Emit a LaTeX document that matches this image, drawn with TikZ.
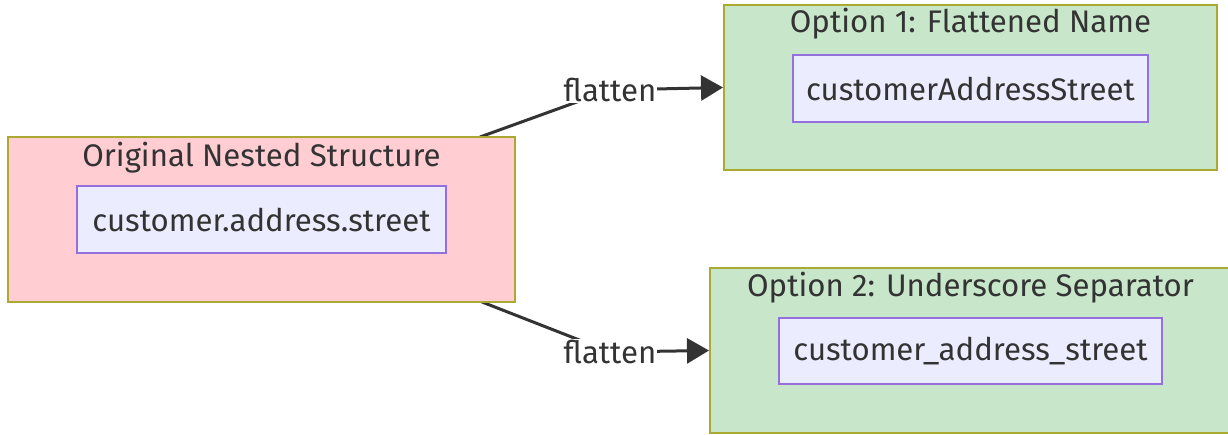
\documentclass[tikz,border=0pt]{standalone}
\usepackage{fontspec}
\setmainfont{Fira Sans}
\usetikzlibrary{arrows.meta,backgrounds}
\definecolor{txt}{HTML}{333333}
\definecolor{clusterline}{HTML}{AAAA33}
\definecolor{pinkfill}{HTML}{FFCDD2}
\definecolor{greenfill}{HTML}{C8E6C9}
\definecolor{itemfill}{HTML}{ECECFF}
\definecolor{itemline}{HTML}{9370DB}
\tikzset{
  cluster/.style={draw=clusterline, line width=2pt, inner sep=0pt},
  item/.style={draw=itemline, fill=itemfill, line width=2pt, inner sep=0pt,
    text=txt, font=\fontsize{31.2}{36}\selectfont},
  ctitle/.style={text=txt, font=\fontsize{31.2}{36}\selectfont, inner sep=0pt},
  elabel/.style={fill=white, text=txt, font=\fontsize{31.2}{36}\selectfont, inner sep=1pt},
  edge/.style={draw=txt, line width=3pt, -{Triangle[length=22pt,width=25pt]}},
}
\begin{document}
\begin{tikzpicture}[x=1pt,y=-1pt]
\useasboundingbox (0,0) rectangle (1228,434);
\clip (0,0) rectangle (1228,434);
% groups
\node[cluster, fill=pinkfill, minimum width=507pt, minimum height=165pt] (orig) at (261.5,219.5) {};
\node[cluster, fill=greenfill, minimum width=493pt, minimum height=165pt] (opt1) at (970.5,87.5) {};
\node[cluster, fill=greenfill, minimum width=524pt, minimum height=165pt] (opt2) at (972,350.5) {};
% group titles
\node[ctitle] (origT) at (261.5,158) {Original Nested Structure};
\node[ctitle] (opt1T) at (970.5,24) {Option 1: Flattened Name};
\node[ctitle] (opt2T) at (970.5,288) {Option 2: Underscore Separator};
% field names
\node[item, minimum width=369pt, minimum height=67pt] (f0) at (261.5,219.5) {customer.address.street};
\node[item, minimum width=355pt, minimum height=67pt] (f1) at (970.5,88.5) {customerAddressStreet};
\node[item, minimum width=383pt, minimum height=66pt] (f2) at (970.5,351) {customer\_address\_street};
% edge labels
\node[elabel] (l1) at (610,90) {flatten};
\node[elabel] (l2) at (610,352) {flatten};
\coordinate (s1) at (480,137);
\coordinate (s2) at (482,302);
\begin{scope}[on background layer]
\draw[edge] (s1) -- (l1.center) -- (opt1.west);
\draw[edge] (s2) -- (l2.center) -- (opt2.west);
\end{scope}
\end{tikzpicture}
\end{document}
